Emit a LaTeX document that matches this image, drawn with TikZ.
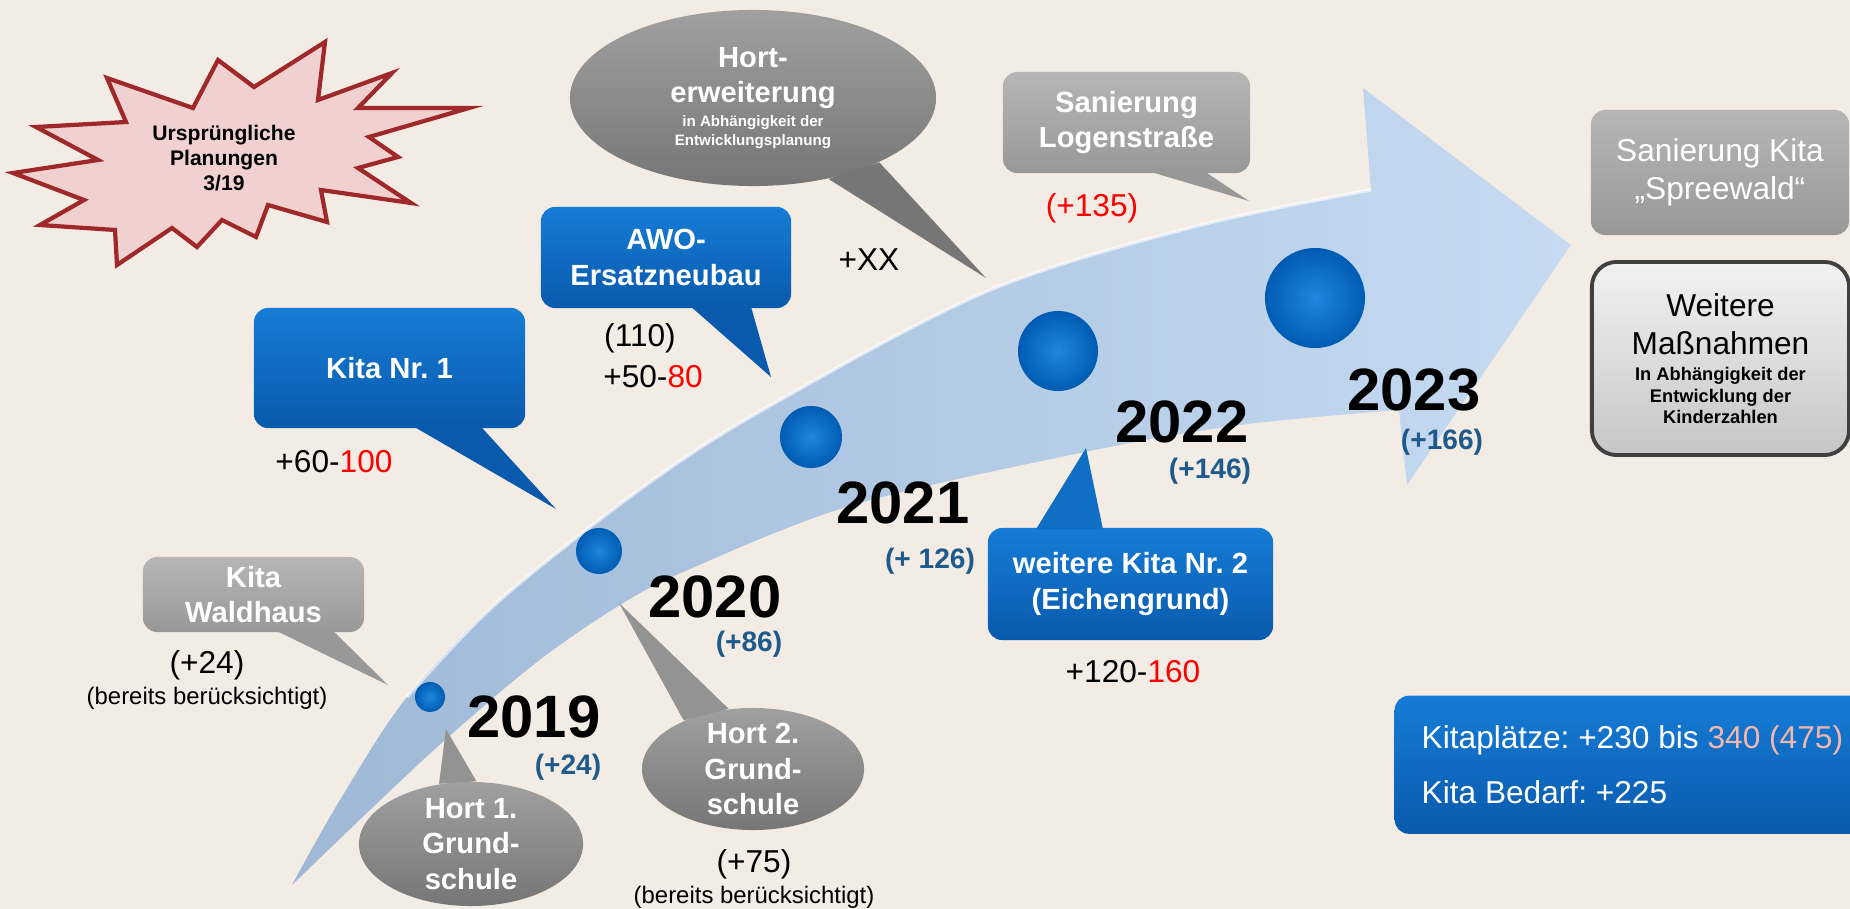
\documentclass[tikz,border=0pt]{standalone}
\usepackage{fontspec}
\setmainfont{Liberation Sans}
\usetikzlibrary{calc,shapes.geometric}
\frenchspacing

\definecolor{paper}{RGB}{243,236,228}
\definecolor{bluetop}{RGB}{22,124,214}
\definecolor{bluebot}{RGB}{9,90,172}
\definecolor{graytop}{RGB}{182,182,182}
\definecolor{graybot}{RGB}{152,152,152}
\definecolor{bubtop}{RGB}{160,160,160}
\definecolor{bubbot}{RGB}{118,118,118}
\definecolor{paletop}{RGB}{242,242,242}
\definecolor{palebot}{RGB}{198,198,198}
\definecolor{bandleft}{RGB}{158,184,214}
\definecolor{bandright}{RGB}{198,219,242}
\definecolor{ballin}{RGB}{30,135,222}
\definecolor{ballout}{RGB}{0,92,178}
\definecolor{numblue}{RGB}{30,90,140}
\definecolor{starfill}{RGB}{240,209,207}
\definecolor{starline}{RGB}{158,40,42}
\definecolor{salmon}{RGB}{243,182,172}

\newcommand{\callouttail}[4]{\fill[#1] #2 -- (#3) -- #4 -- cycle;}

\begin{document}
\begin{tikzpicture}[x=0.01cm, y=-0.01cm]
  \tikzset{
    box/.style={rounded corners=4pt, inner sep=0pt, align=center, text=white, font=\bfseries\fontsize{8.3}{10}\selectfont},
    bluebox/.style 2 args={box, top color=bluetop, bottom color=bluebot, minimum width=#1, minimum height=#2},
    graybox/.style 2 args={box, top color=graytop, bottom color=graybot, minimum width=#1, minimum height=#2},
    bubble/.style 2 args={ellipse, inner xsep=0pt, inner ysep=-2pt, top color=bubtop, bottom color=bubbot, text=white, align=center, font=\bfseries\fontsize{8.3}{10}\selectfont, minimum width=#1, minimum height=#2},
    sphere/.style={circle, inner sep=0pt, inner color=ballin, outer color=ballout, minimum size=#1},
    year/.style={font=\bfseries\fontsize{17}{20}\selectfont},
    gain/.style={text=numblue, font=\bfseries\fontsize{8}{10}\selectfont},
    plain/.style={font=\fontsize{9}{11}\selectfont},
    note/.style={font=\fontsize{6.8}{8}\selectfont}
  }
  \useasboundingbox (0,0) rectangle (1850,909);
  \clip (0,0) rectangle (1850,909);
  \fill[paper] (0,0) rectangle (1850,909);

  \draw[starline, fill=starfill, line width=1.2pt] (107,78) -- (193,108) -- (218,60) -- (254,87) -- (325,42) -- (318,100) -- (392,73) -- (358,108) -- (469,108) -- (369,137) -- (398,157) -- (358,168) -- (411,203) -- (321,190) -- (327,222) -- (268,205) -- (256,237) -- (222,220) -- (197,247) -- (172,228) -- (117,265) -- (115,230) -- (40,225) -- (84,200) -- (13,173) -- (98,160) -- (36,127) -- (126,122) -- cycle;
  \node[font=\bfseries\fontsize{6}{7.1}\selectfont, align=center] (plan) at (224,158) {Ursprüngliche\\Planungen\\3/19};

  \shade[left color=bandleft, right color=bandright]
    plot[smooth, tension=0.55] coordinates {(292,885) (340,800) (407,697) (500,600) (653,480) (780,400) (990,290) (1197,226) (1371,190)}
    -- (1363,88) -- (1571,245) -- (1407,485) -- (1399,410)
    -- plot[smooth, tension=0.55] coordinates {(1399,410) (1240,425) (1085,452) (853,505) (690,569) (620,605) (537,662) (445,740) (370,810) (292,885)}
    -- cycle;
  \draw[white, opacity=0.6, line width=1pt] plot[smooth, tension=0.55] coordinates {(407,697) (500,600) (653,480) (780,400) (990,290) (1197,226) (1371,190)};

  \node[sphere=0.30cm] (b2019) at (430,697) {};
  \node[sphere=0.46cm] (b2020) at (599,551) {};
  \node[sphere=0.62cm] (b2021) at (811,437) {};
  \node[sphere=0.80cm] (b2022) at (1058,351) {};
  \node[sphere=1.00cm] (b2023) at (1315,298) {};

  \node[year] (y2019) at (534,717) {2019};
  \node[year] (y2020) at (715,597) {2020};
  \node[year] (y2021) at (903,503) {2021};
  \node[year] (y2022) at (1182,422) {2022};
  \node[year] (y2023) at (1414,390) {2023};
  \node[gain] (g2019) at (568,767) {(+24)};
  \node[gain] (g2020) at (749,644) {(+86)};
  \node[gain] (g2021) at (930,561) {(+ 126)};
  \node[gain] (g2022) at (1210,471) {(+146)};
  \node[gain] (g2023) at (1442,442) {(+166)};

  \node[graybox={2.21cm}{0.75cm}] (waldhaus) at (253.5,594.5) {Kita\\Waldhaus};
  \coordinate (tipWaldhaus) at (388,685);
  \callouttail{graybot}{($(waldhaus.south)+(22.5,-2)$)}{tipWaldhaus}{($(waldhaus.south)+(79.5,-2)$)}
  \node[plain] (nWaldhaus) at (207,665) {(+24)};
  \node[note] (bWaldhaus) at (207,698) {(bereits berücksichtigt)};

  \node[bluebox={2.71cm}{1.2cm}] (kitaEins) at (389.5,368) {Kita Nr. 1};
  \coordinate (tipKitaEins) at (556,509);
  \callouttail{bluebot}{($(kitaEins.south)+(24.5,-2)$)}{tipKitaEins}{($(kitaEins.south)+(91.5,-2)$)}
  \node[plain] (nKitaEins) at (334,462) {+60-\textcolor{red}{100}};

  \node[bluebox={2.5cm}{1.01cm}] (awo) at (666,257.5) {AWO-\\Ersatzneubau};
  \coordinate (tipAwo) at (771,377);
  \callouttail{bluebot}{($(awo.south)+(25,-2)$)}{tipAwo}{($(awo.south)+(85,-2)$)}
  \node[plain] (pAwo) at (640,338) {(110)};
  \node[plain] (nAwo) at (653,377) {+50-\textcolor{red}{80}};

  \node[bubble={3.66cm}{1.76cm}, inner ysep=0pt, text width=1.8cm, align=flush center] (hortErw) at (753,98) {Hort-\\erweiterung\par\vspace{1.3pt}{\fontsize{4.3}{5.4}\selectfont in Abhängigkeit der\\Entwicklungsplanung\par}};
  \coordinate (tipHortErw) at (986,278);
  \callouttail{bubbot}{(hortErw.-47)}{tipHortErw}{(hortErw.-27)}
  \node[plain] (nHortErw) at (869,260) {+XX};

  \node[graybox={2.47cm}{1.01cm}] (logen) at (1126.5,122.5) {Sanierung\\Logenstraße};
  \coordinate (tipLogen) at (1249,201);
  \callouttail{graybot}{($(logen.south)+(23.5,-2)$)}{tipLogen}{($(logen.south)+(78.5,-2)$)}
  \node[plain, text=red] (nLogen) at (1092,208) {(+135)};

  \node[bluebox={2.85cm}{1.12cm}] (kitaZwei) at (1130.5,584) {weitere Kita Nr. 2\\(Eichengrund)};
  \coordinate (tipKitaZwei) at (1086,448);
  \callouttail{bluetop!60!bluebot}{($(kitaZwei.north)+(-94.5,2)$)}{tipKitaZwei}{($(kitaZwei.north)+(-27.5,2)$)}
  \node[plain] (nKitaZwei) at (1133,672) {+120-\textcolor{red}{160}};

  \node[bubble={2.24cm}{1.24cm}] (hortEins) at (471,844) {Hort 1.\\Grund-\\schule};
  \coordinate (tipHortEins) at (446,729);
  \callouttail{bubtop!70!bubbot}{(hortEins.118)}{tipHortEins}{(hortEins.85)}

  \node[bubble={2.22cm}{1.22cm}] (hortZwei) at (753,769) {Hort 2.\\Grund-\\schule};
  \coordinate (tipHortZwei) at (619,603);
  \callouttail{bubtop!70!bubbot}{(hortZwei.145)}{tipHortZwei}{(hortZwei.112)}
  \node[plain] (nHortZwei) at (754,864) {(+75)};
  \node[note] (bHortZwei) at (754,897) {(bereits berücksichtigt)};

  \node[graybox={2.58cm}{1.25cm}, font=\fontsize{9}{10.8}\selectfont] (spreewald) at (1720,172.5) {Sanierung Kita\\„Spreewald“};
  \node[box, top color=paletop, bottom color=palebot, draw=black!75, line width=1.1pt, rounded corners=7pt, minimum width=2.57cm, minimum height=1.93cm, text=black, text width=2.4cm, align=flush center, font=\fontsize{9}{11}\selectfont] (massnahmen) at (1720.5,358.5) {Weitere\\Maßnahmen\par\vspace{1.2pt}{\bfseries\fontsize{5.2}{6.1}\selectfont In Abhängigkeit der\\Entwicklung der\\Kinderzahlen\par}};

  \node[bluebox={4.9cm}{1.38cm}, anchor=north west, text width=4.4cm, align=flush left, inner xsep=0.27cm, font=\fontsize{9}{15.6}\selectfont] (plaetze) at (1394,695) {Kitaplätze: +230 bis \textcolor{salmon}{340 (475)}\\Kita Bedarf: +225};
\end{tikzpicture}
\end{document}
